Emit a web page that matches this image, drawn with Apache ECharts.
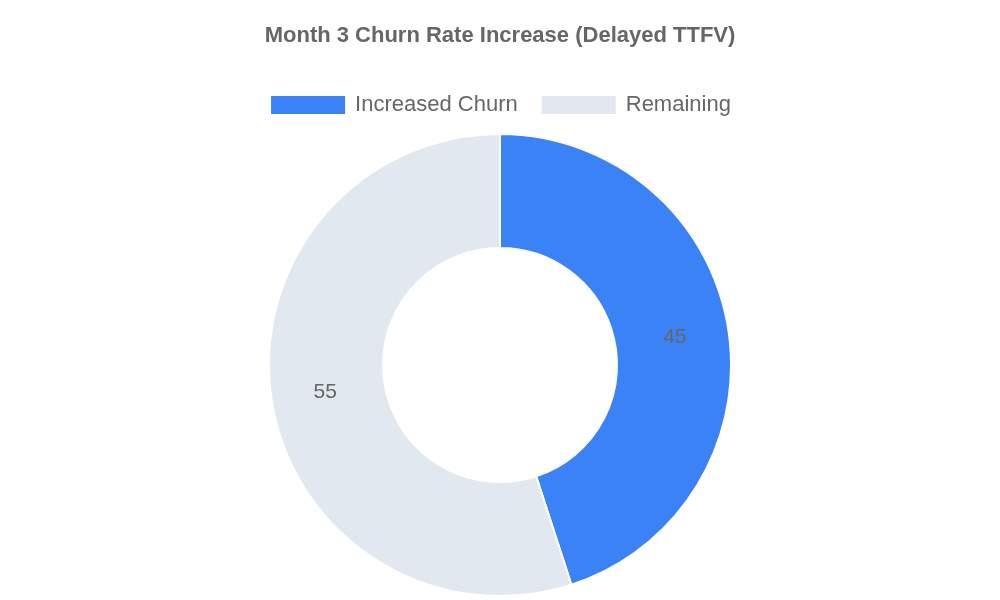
<!DOCTYPE html>
<html><head><meta charset="utf-8">
<script src="https://cdn.jsdelivr.net/npm/echarts@6/dist/echarts.min.js"></script>
<style>html,body{margin:0;padding:0;background:#fff}#c{width:1000px;height:600px}</style>
</head><body><div id="c"></div>
<script>
const categories = ["Increased Churn", "Remaining"];
const values = [45, 55];
const colors = ["#3b82f6", "#e2e8f0"];
const chart = echarts.init(document.getElementById('c'));
chart.setOption({
  animation: false,
  title: { text: "Month 3 Churn Rate Increase (Delayed TTFV)", left: 'center', top: 20,
    textStyle: { fontFamily: 'Liberation Sans', fontSize: 22, fontWeight: 'bold', color: '#666' } },
  legend: { top: 89, left: 'center', itemWidth: 76, itemHeight: 20, itemGap: 22, icon: 'rect',
    textStyle: { fontFamily: 'Liberation Sans', fontSize: 22, color: '#666', padding: [0,0,0,4] },
    data: categories },
  series: [{
    type: 'pie', center: [500, 365], radius: [117, 231], startAngle: 90, clockwise: true,
    itemStyle: { borderColor: '#fff', borderWidth: 2 },
    label: { position: 'inside', formatter: '{c}', fontFamily: 'Liberation Sans', fontSize: 21, color: '#666' },
    labelLine: { show: false },
    emphasis: { disabled: true },
    data: categories.map((n, i) => ({ name: n, value: values[i], itemStyle: { color: colors[i] } }))
  }]
});
</script></body></html>
